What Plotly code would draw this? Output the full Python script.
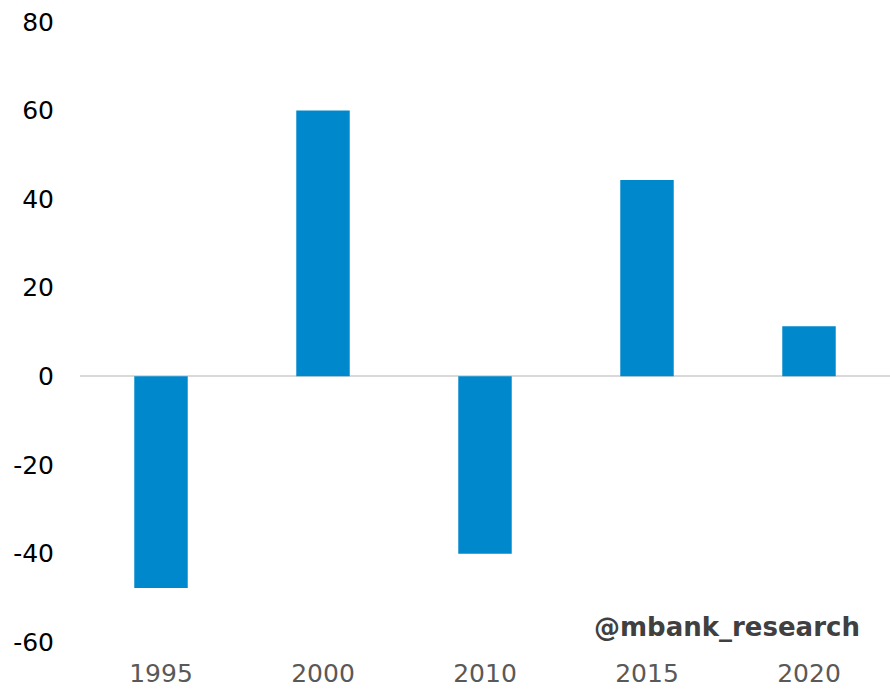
import plotly.graph_objects as go

years = ["1995", "2000", "2010", "2015", "2020"]
values = [-47.8, 60.0, -40.1, 44.3, 11.3]
y_ticks = [-60, -40, -20, 0, 20, 40, 60, 80]
y_tick_labels = [str(v) for v in y_ticks]  # plain hyphen for negatives

BAR_COLOR = "#0088CC"
FONT = "DejaVu Sans"

fig = go.Figure(
    go.Bar(
        x=years,
        y=values,
        marker=dict(color=BAR_COLOR, line=dict(width=0)),
        width=0.33,
    )
)

fig.update_layout(
    width=890,
    height=689,
    margin=dict(l=80, r=0, t=22, b=47, autoexpand=False),
    plot_bgcolor="white",
    paper_bgcolor="white",
    showlegend=False,
    font=dict(family=FONT),
    xaxis=dict(
        type="category",
        automargin=False,
        showgrid=False,
        showline=False,
        zeroline=False,
        ticks="",
        tickfont=dict(size=25, color="#595959", family=FONT),
        ticklabelstandoff=14,
    ),
    yaxis=dict(
        range=[-60, 80],
        automargin=False,
        tickvals=y_ticks,
        ticktext=y_tick_labels,
        showgrid=False,
        showline=False,
        zeroline=True,
        zerolinecolor="#D9D9D9",
        zerolinewidth=2,
        ticks="",
        tickfont=dict(size=25, color="#000000", family=FONT),
        ticklabelstandoff=25,
    ),
    annotations=[
        dict(
            text="<b>@mbank_research</b>",
            xref="paper",
            yref="paper",
            x=0.965,
            y=0.025,
            xanchor="right",
            yanchor="middle",
            showarrow=False,
            font=dict(size=26, color="#404040", family=FONT),
        )
    ],
)

fig.write_html("out.html")
